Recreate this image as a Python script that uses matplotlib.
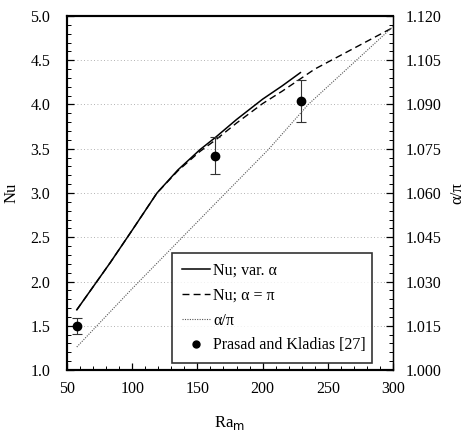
import matplotlib
matplotlib.use("Agg")
import matplotlib.pyplot as plt
from matplotlib.lines import Line2D
from matplotlib.ticker import MultipleLocator, FixedLocator, FormatStrFormatter

plt.rcParams['font.family'] = ['Liberation Serif', 'DejaVu Serif']

# data
ra_var = [57.5, 83, 100, 119, 135, 152, 164, 180, 200, 215, 229]
nu_var = [1.68, 2.21, 2.58, 3.00, 3.26, 3.49, 3.63, 3.83, 4.06, 4.21, 4.36]

ra_pi = [57.5, 83, 100, 119, 135, 152, 164, 180, 200, 215, 229, 240, 300]
nu_pi = [1.68, 2.21, 2.58, 3.00, 3.25, 3.47, 3.60, 3.79, 4.01, 4.15, 4.29, 4.40, 4.87]

ra_alpha = [57.5, 100, 165, 205, 235, 300]
alpha_pi = [1.0078, 1.0276, 1.0570, 1.0750, 1.0900, 1.1164]

ra_exp = [57.5, 163.8, 229.8]
nu_exp = [1.50, 3.42, 4.04]
nu_err = [0.09, 0.21, 0.235]

grid_levels = [1.5, 2.0, 2.5, 3.0, 3.5, 4.0, 4.5]
right_ticks = [1.000, 1.015, 1.030, 1.045, 1.060, 1.075, 1.090, 1.105, 1.120]
right_minor = [1.000 + 0.003 * i for i in range(41)]

fig = plt.figure(figsize=(4.66, 4.32), dpi=100)
ax = fig.add_axes([0.1438, 0.1435, 0.6995, 0.8195])
ax2 = ax.twinx()

for g in grid_levels:
    ax.axhline(g, color='#999999', lw=0.6, ls=(0, (1, 3)), zorder=0)

l1, = ax.plot(ra_var, nu_var, color='black', lw=1.1, label='Nu; var. α')
l2, = ax.plot(ra_pi, nu_pi, color='black', lw=1.0, ls=(0, (5, 3)), label='Nu; α = π')
l3, = ax2.plot(ra_alpha, alpha_pi, color='#555555', lw=0.8, ls=(0, (1, 1.2)), label='α/π')
ax.errorbar(ra_exp, nu_exp, yerr=nu_err, fmt='o', color='black', ms=6,
            ecolor='#333333', elinewidth=0.8, capsize=3.5, capthick=0.8)
l4 = Line2D([], [], ls='none', marker='o', color='black', ms=5,
            label='Prasad and Kladias [27]')

ax.set_xlim(50, 300)
ax.set_ylim(1.0, 5.0)
ax2.set_ylim(1.000, 1.120)

ax.xaxis.set_major_locator(MultipleLocator(50))
ax.xaxis.set_minor_locator(MultipleLocator(10))
ax.yaxis.set_major_locator(MultipleLocator(0.5))
ax.yaxis.set_minor_locator(MultipleLocator(0.1))
ax.yaxis.set_major_formatter(FormatStrFormatter('%.1f'))
ax2.yaxis.set_major_locator(FixedLocator(right_ticks))
ax2.yaxis.set_minor_locator(FixedLocator(right_minor))
ax2.yaxis.set_major_formatter(FormatStrFormatter('%.3f'))

ax.tick_params(axis='both', which='both', direction='in', labelsize=11.5, top=False, right=False)
ax.tick_params(axis='y', which='major', length=5, width=0.9, pad=12)
ax.tick_params(axis='y', which='minor', length=3, width=0.7)
ax.tick_params(axis='x', which='major', length=5, width=0.9, pad=8)
ax.tick_params(axis='x', which='minor', length=3, width=0.7)
ax2.tick_params(axis='y', which='both', direction='in', labelsize=11.5, pad=9)
ax2.tick_params(axis='y', which='major', length=5, width=0.9)
ax2.tick_params(axis='y', which='minor', length=3, width=0.7)

for sp in ['left', 'bottom', 'top']:
    ax.spines[sp].set_linewidth(1.5)
    ax2.spines[sp].set_linewidth(1.5)
ax2.spines['right'].set_linewidth(1.0)

ax.set_ylabel('Nu', fontsize=12, labelpad=8)
ax2.set_ylabel('α/π', fontsize=12, labelpad=6)
ax.set_xlabel(r'Ra$_{\rm m}$', fontsize=12, labelpad=12)

leg = ax.legend(handles=[l1, l2, l3, l4], loc='lower left',
                bbox_to_anchor=(0.322, 0.02, 0.614, 0.31), mode='expand',
                fontsize=11.5, frameon=True, fancybox=False, edgecolor='black',
                handlelength=1.8, handletextpad=0.2, labelspacing=0.55,
                borderpad=0.6, borderaxespad=0.0)
leg.get_frame().set_linewidth(1.2)
leg.set_zorder(5)

fig.savefig('out.png', dpi=100)
